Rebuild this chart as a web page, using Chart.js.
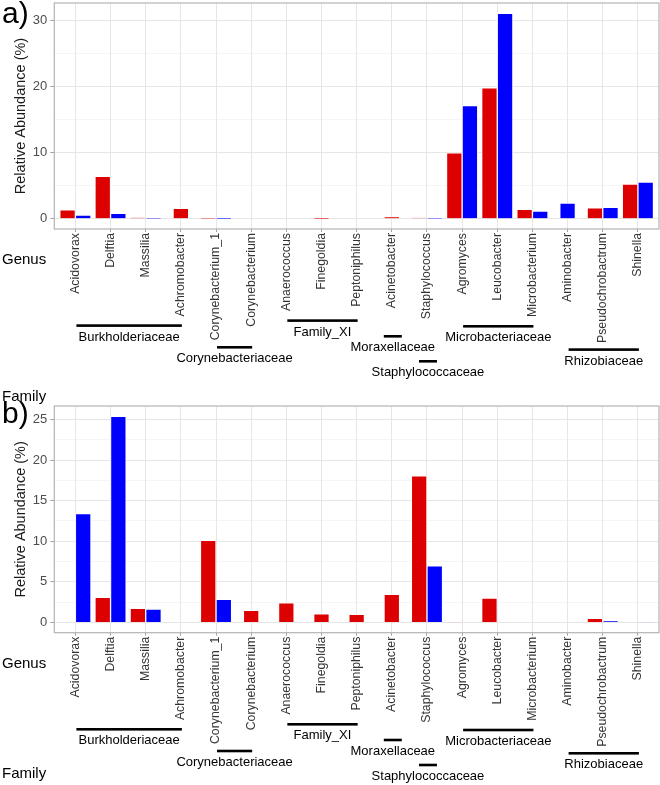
<!DOCTYPE html>
<html>
<head>
<meta charset="utf-8">
<script src="https://cdn.jsdelivr.net/npm/chart.js@4"></script>
<style>
  body { margin: 0; background: #fff; width: 660px; height: 785px; position: relative; overflow: hidden;
         font-family: "Liberation Sans", Arial, sans-serif; }
  canvas { position: absolute; left: 0; }
  #chartA { top: 0; }
  #chartB { top: 392px; }
  .tag { position: absolute; left: 2px; font-size: 30px; line-height: 30px; color: #000; }
</style>
</head>
<body>
<canvas id="chartA" width="660" height="410"></canvas>
<canvas id="chartB" width="660" height="393"></canvas>
<div class="tag" style="top:-2px">a)</div>
<div class="tag" style="top:398px">b)</div>
<script>
    const genus = ['Acidovorax', 'Delftia', 'Massilia', 'Achromobacter', 'Corynebacterium_1', 'Corynebacterium',
      'Anaerococcus', 'Finegoldia', 'Peptoniphilus', 'Acinetobacter', 'Staphylococcus', 'Agromyces',
      'Leucobacter', 'Microbacterium', 'Aminobacter', 'Pseudochrobactrum', 'Shinella'];

    // panel a) (null = no bar for that sample)
    const redA  = [1.35, 6.42, 0.12, 1.56, 0.03, null, null, 0.02, null, 0.26, 0.10, 10.0, 19.85, 1.41, null, 1.65, 5.26];
    const blueA = [0.56, 0.81, 0.05, null, 0.02, null, null, null, null, null, 0.03, 17.14, 31.13, 1.16, 2.36, 1.71, 5.56];

    // panel b)
    const redB  = [0, 3.08, 1.72, null, 10.1, 1.48, 2.41, 1.06, 0.99, 3.45, 18.05, 0.05, 2.99, null, null, 0.49, 0];
    const blueB = [13.4, 25.4, 1.64, null, 2.83, null, null, null, null, null, 6.97, 0, 0, null, null, 0.16, 0.05];

    const yTicksA = [0, 5, 10, 15, 20, 25, 30];
    const yLabelStepA = 10;
    const yTicksB = [0, 2.5, 5, 7.5, 10, 12.5, 15, 17.5, 20, 22.5, 25];
    const yLabelStepB = 5;

    const familyNames = ['Burkholderiaceae', 'Corynebacteriaceae', 'Family_XI', 'Moraxellaceae',
      'Staphylococcaceae', 'Microbacteriaceae', 'Rhizobiaceae'];
    const familyFirst = [0, 4, 6, 9, 10, 11, 14];
    const familyLast  = [3, 5, 8, 9, 10, 13, 16];

    // how far below the panel each family bracket sits (px)
    const familyDrop = [96.6, 118.3, 91.6, 107.3, 132.3, 97.3, 120.6];

    const FONT = '"Liberation Sans", Arial, sans-serif';
    const RED = '#dd0000';
    const BLUE = '#0000ff';

    function annotations(familyLabelY) {
      return {
        id: 'annotations',
        afterDraw(chart) {
          const { ctx, chartArea: a, scales: { x } } = chart;
          ctx.save();
          ctx.strokeStyle = '#b3b3b3';
          ctx.lineWidth = 1.2;
          ctx.strokeRect(a.left, a.top, a.right - a.left, a.bottom - a.top);

          ctx.fillStyle = '#000';
          ctx.textBaseline = 'middle';
          ctx.textAlign = 'left';
          ctx.font = '15px ' + FONT;
          ctx.fillText('Genus', 2, a.bottom + 31);
          ctx.fillText('Family', 2, a.bottom + familyLabelY);

          ctx.font = '13px ' + FONT;
          ctx.textAlign = 'center';
          familyNames.forEach((name, i) => {
            const x1 = x.getPixelForValue(familyFirst[i]);
            const x2 = x.getPixelForValue(familyLast[i]);
            let l = x1 + 1, r = x2 + 1;
            if (familyFirst[i] === familyLast[i]) { l = x1 - 8; r = x1 + 10; }
            const y = a.bottom + familyDrop[i];
            ctx.fillRect(l, y - 1.3, r - l, 2.6);
            ctx.fillText(name, (l + r) / 2, y + 11.5);
          });
          ctx.restore();
        }
      };
    }

    function makeChart(id, red, blue, yTicks, labelStep, cfg) {
      const maxV = Math.max(...red.concat(blue).filter(v => v !== null));
      const isMajor = v => Math.abs(v % labelStep) < 1e-9;
      return new Chart(document.getElementById(id), {
        type: 'bar',
        data: {
          datasets: [
            { data: red.map((v, i) => ({ x: i, y: v })), backgroundColor: RED },
            { data: blue.map((v, i) => ({ x: i, y: v })), backgroundColor: BLUE }
          ]
        },
        options: {
          responsive: false,
          animation: false,
          skipNull: true,
          barThickness: 15.6,
          borderWidth: 1,
          borderColor: 'rgba(255,255,255,0.7)',
          layout: { padding: { top: cfg.top, right: 1, left: 0, bottom: 0 } },
          plugins: { legend: { display: false }, tooltip: { enabled: false } },
          scales: {
            x: {
              type: 'linear',
              min: -0.6,
              max: genus.length - 0.4,
              offset: false,
              afterBuildTicks: s => { s.ticks = genus.map((g, i) => ({ value: i })); },
              afterFit: s => { s.height = cfg.xHeight; s.paddingLeft = 0; s.paddingRight = 0; },
              ticks: {
                autoSkip: false,
                minRotation: 90,
                maxRotation: 90,
                padding: 1,
                color: '#333',
                font: { family: FONT, size: 12.3 },
                callback: v => genus[v]
              },
              grid: { offset: false, color: '#e3e3e3', lineWidth: 0.9, tickLength: 3, tickColor: '#999' },
              border: { display: false }
            },
            y: {
              min: -0.05 * maxV,
              max: 1.05 * maxV,
              afterBuildTicks: s => { s.ticks = yTicks.map(v => ({ value: v })); },
              afterFit: s => { s.width = 54.3; s.paddingTop = 0; s.paddingBottom = 0; },
              ticks: {
                padding: 3,
                color: '#4d4d4d',
                font: { family: FONT, size: 13 },
                callback: v => (isMajor(v) ? v : '')
              },
              grid: {
                color: c => (isMajor(c.tick.value) ? '#e3e3e3' : '#efefef'),
                lineWidth: c => (isMajor(c.tick.value) ? 0.9 : 0.6),
                tickLength: 4,
                tickColor: c => (isMajor(c.tick.value) ? '#999' : 'rgba(0,0,0,0)')
              },
              border: { display: false },
              title: {
                display: true,
                text: 'Relative Abundance (%)',
                color: '#1a1a1a',
                font: { family: FONT, size: 14.5 },
                padding: { top: 12.4, bottom: 0 }
              }
            }
          }
        },
        plugins: [annotations(cfg.familyLabelY)]
      });
    }

    makeChart('chartA', redA, blueA, yTicksA, yLabelStepA, { top: 3, xHeight: 181, familyLabelY: 168 });
    makeChart('chartB', redB, blueB, yTicksB, yLabelStepB, { top: 14, xHeight: 152.3, familyLabelY: 141.6 });
</script>
</body>
</html>
